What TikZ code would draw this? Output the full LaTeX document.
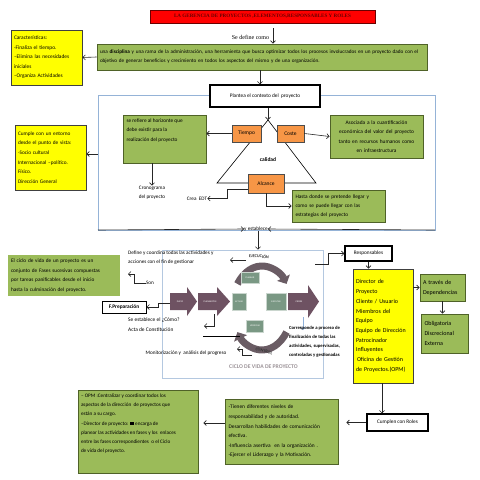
\documentclass[tikz,border=0pt]{standalone}
\usepackage{fontspec}
\setmainfont{Carlito}
\newfontfamily\tnr{Liberation Serif}
\usetikzlibrary{arrows.meta,calc}
\definecolor{gfill}{HTML}{9BBB59}
\definecolor{gdraw}{HTML}{4F6228}
\definecolor{yfill}{HTML}{FFFF00}
\definecolor{ofill}{HTML}{F79646}
\definecolor{tfill}{HTML}{FF0000}
\definecolor{tred}{HTML}{6A0000}
\definecolor{bframe}{HTML}{95B3D7}
\definecolor{cframe}{HTML}{B4C8E0}
\definecolor{mauve}{HTML}{6E5262}
\definecolor{arcc}{HTML}{6A5C64}
\definecolor{cgreen}{HTML}{7A9884}
\definecolor{ctitle}{HTML}{9C9398}
\definecolor{barrow}{HTML}{8EB0DA}
\newcommand{\fs}[2]{\fontsize{#1}{#2}\selectfont}
\newcommand{\tbx}[3]{\parbox[c][#2][t]{#1}{\raggedright #3}}
\tikzset{
  gbox/.style={draw=gdraw, fill=gfill, line width=0.9pt, inner sep=0pt},
  ybox/.style={draw=black!75, fill=yfill, line width=0.9pt, inner sep=0pt},
  obox/.style={draw=black!70, fill=ofill, line width=0.9pt, inner sep=0pt, font=\fs{5.5}{6}},
  wbox/.style={draw=black, fill=white, line width=1.3pt, inner sep=0pt, font=\fs{5.3}{6}},
  arr/.style={-{Straight Barb[length=2.5pt,width=5pt]}, line width=0.6pt, black!85},
  txt/.style={inner sep=0pt, font=\fs{5.2}{9.2}},
  cbox/.style={fill=cgreen, draw=white!60!cgreen, line width=0.4pt, inner sep=0pt, font=\fs{2.3}{3}, text=white},
  atext/.style={inner sep=0pt, font=\fs{2.4}{3}, text=white},
  bigarc/.style={arcc, line width=7pt, -{Triangle[length=7pt,width=14pt]}},
}
\begin{document}
\begin{tikzpicture}[x=1pt,y=-1pt]
\useasboundingbox (0,0) rectangle (480,480);
\fill[white] (0,0) rectangle (480,480);

% title
\node[draw=tred, fill=tfill, line width=0.8pt, minimum width=225pt, minimum height=13pt, inner sep=0pt,
      font=\tnr\bfseries\fs{5.1}{6}, text=tred] (title) at (262.5,16.5)
      {LA GERENCIA DE PROYECTOS ,ELEMENTOS,RESPONSABLES Y ROLES};
\node[inner sep=0pt, font=\tnr\fs{6}{7}] (sdef) at (250.5,37) {Se define como};

% green 1
\node[gbox, minimum width=330pt, minimum height=26pt, text width=324pt, align=left, font=\fs{5.2}{9.2}] (g1) at (262,57)
  {una \textbf{disciplina} y una rama de la administración, una herramienta que busca optimizar todos los procesos involucrados en un proyecto dado con el\\
   objetivo de generar beneficios y crecimiento en todos los aspectos del mismo y de una organización.};

% yellow 1
\node[ybox, minimum width=71pt, minimum height=55pt, text width=65pt, align=left, font=\fs{5.4}{9.5}] (y1) at (46.5,57.5)
  {Características:\\-Finaliza el tiempo.\\–Elimina las necesidades\\iniciales\\–Organiza Actividades};

% blue frame
\draw[bframe, line width=0.9pt] (98,95) rectangle (435,230);
\coordinate (bfl) at (98,230);
\coordinate (bfr) at (435,230);
\coordinate (bfm) at (98,154);

% plantea
\node[wbox, minimum width=110pt, minimum height=22pt] (plan) at (265,96) {Plantea el contexto del \ proyecto};

% yellow 2
\node[ybox, minimum width=71pt, minimum height=65pt, text width=65pt, align=left, font=\fs{5.3}{9.6}] (y2) at (50.5,157.5)
  {Cumple con un entorno\\desde el punto de vista:\\-Socio cultural\\Internacional –político.\\Físico.\\Dirección General};

% green 2
\node[gbox, minimum width=83pt, minimum height=48pt, font=\fs{5.3}{9.3}] (g2) at (164.5,139)
  {\tbx{76pt}{42pt}{\vspace{1pt}se refiere al horizonte que\\debe existir para la\\realización del proyecto}};

% triangle
\coordinate (tapex) at (268,120);
\coordinate (tbl) at (217,183);
\coordinate (tbr) at (316,183);
\draw[line width=0.6pt] (tapex) -- (tbl) -- (tbr) -- cycle;

\node[obox, minimum width=29pt, minimum height=17pt] (tiempo) at (246.5,133.5) {Tiempo};
\node[obox, minimum width=27pt, minimum height=17pt] (coste) at (290.5,133.5) {Coste};
\node[obox, minimum width=36pt, minimum height=19pt] (alcance) at (266,183.5) {Alcance};
\node[inner sep=0pt, font=\bfseries\fs{5.5}{6}] (calidad) at (268,160) {calidad};

% green 3
\node[gbox, minimum width=93pt, minimum height=43pt, text width=90pt, align=center, font=\fs{5.4}{9.3}] (g3) at (376.5,136.5)
  {Asociada a la cuantificación\\económica del valor del proyecto\\tanto en recursos humanos como\\en infraestructura};

% green 4
\node[gbox, minimum width=93pt, minimum height=32pt, text width=86pt, align=left, font=\fs{5.3}{9.2}] (g4) at (338.5,206)
  {Hasta donde se pretende llegar y\\como se puede llegar con las\\estrategias del proyecto};

\node[txt, align=center] (crono) at (152,192.5) {Cronograma\\del proyecto};
\node[txt] (edt) at (197,198.5) {Crea \ EDT};
\node[txt] (yest) at (256,229) {y establece};

% connectors top part
\draw[arr, shorten <=5pt] (title.south -| 273,0) -- (g1.north -| 273,0);
\draw[arr] (g1.west) -- (y1.east);
\draw[arr] (g1.south -| 260,0) -- (plan.north -| 260,0);
\draw[arr] (plan.south -| tapex) -- (tapex);
\draw[arr] (bfm) -- (y2.east |- bfm);
\draw[arr] (tiempo.west) -- (g2.east |- tiempo.west);
\draw[arr] (coste.east) -- (g3.west);
\draw[arr] (g2.south -| crono.north) -- (crono.north);
\draw[arr] ([yshift=-5.5pt]alcance.west) -- ++(-20,0) |- (edt.east);
\draw[arr] (alcance.south) |- (g4.west);
\draw[arr] (bfl) -- (yest.west);
\draw[arr] (bfr) -- (yest.east);

% cycle frame
\node[draw=cframe, line width=0.8pt, minimum width=161pt, minimum height=128pt, inner sep=0pt] (cyc) at (242.5,314) {};
\draw[arr] (yest.south -| 258,0) -- (cyc.north -| 258,0);

% cycle arrows
\fill[mauve] (170,293) -- (187,293) -- (187,287) -- (197,301.5) -- (187,316) -- (187,310) -- (170,310) -- cycle;
\node[atext] (tini) at (180,301.5) {INICIO};
\fill[mauve] (198,293) -- (217,293) -- (217,287) -- (230,301.5) -- (217,316) -- (217,310) -- (198,310) -- cycle;
\node[atext] (tpla) at (210,301.5) {PLANEACIÓN};
\fill[mauve] (288,293) -- (308,293) -- (308,285) -- (319,301.5) -- (308,318) -- (308,310) -- (288,310) -- cycle;
\node[atext] (tcie) at (299,301.5) {CIERRE};

\draw[bigarc] (262,308) ++(215:30 and 42) arc[start angle=215, end angle=325, x radius=30, y radius=42];
\draw[bigarc] (262,308) ++(35:30 and 42) arc[start angle=35, end angle=145, x radius=30, y radius=42];

\node[cbox, minimum width=14pt, minimum height=17pt] (actuar) at (239,301.5) {ACTUAR};
\node[cbox, minimum width=18pt, minimum height=11pt] (planear) at (250,277.5) {PLANEAR};
\node[cbox, minimum width=20pt, minimum height=17pt] (ejec) at (276,301.5) {EJECUTAR};
\node[cbox, minimum width=17pt, minimum height=12pt] (verif) at (255,326) {VERIFICAR};

\node[inner sep=0pt, font=\bfseries\fs{4.3}{5}, text=black!80, rotate=-4] (tejec) at (259,256) {EJECUCIÓN};
\node[inner sep=0pt, font=\bfseries\fs{4.3}{5}, text=black!80, rotate=-14] (tcont) at (264,351) {CONTROL};
\node[inner sep=0pt, font=\bfseries\fs{5.7}{7}, text=ctitle] (tciclo) at (263.5,367) {CICLO DE VIDA DE PROYECTO};

% cycle surroundings
\node[txt, anchor=west, align=left] (define) at (128,258) {Define y coordina todas las actividades y\\acciones con el fin de gestionar};
\coordinate (defa) at (246,260);
\draw[arr] (defa) -- (230,260);

\node[txt] (son) at (150,283) {Son};
\coordinate (sona) at (128,274);
\draw[arr] (son.west) -- (134,283) -- (134,274) -- (sona);

\node[fill=gfill, minimum width=112pt, minimum height=41pt, text width=106pt, align=left, inner sep=0pt, font=\fs{5.3}{9.8}] (gcic) at (64,275.5)
  {El ciclo de vida de un proyecto es un\\conjunto de Fases sucesivas compuestas\\por tareas panificables desde el inicio\\hasta la culminación del proyecto.};

\node[draw=black, fill=white, line width=1pt, minimum width=44pt, minimum height=12pt, inner sep=0pt, font=\bfseries\fs{5.4}{6}] (fprep) at (124,307) {F.Preparación};
\coordinate (iniw) at (170,303);
\draw[arr] (iniw) -- (158,303) -- (158,307) -- (fprep.east);

\node[txt, anchor=north west, align=left, font=\fs{5.4}{9.8}] (estab) at (128,318) {Se establece el ¿Cómo?\\Acta de Constitución};
\coordinate (plab) at (214,314);
\coordinate (plaa) at (204,326);
\draw[arr] (plab) -- (214,326) -- (plaa);
\coordinate (lna) at (203,336);
\coordinate (lnb) at (240,336);
\draw[line width=0.6pt] (lna) -- (lnb);

\node[txt] (monit) at (186,353) {Monitorización y \ análisis del progreso};
\coordinate (mona) at (237,349);
\draw[arr] (252,355) -- (242,355) -- (242,349) -- (mona);

\coordinate (cieb) at (303,317);
\draw[-{Straight Barb[length=2.5pt,width=5pt]}, line width=0.6pt, barrow] (cieb) -- (303,330);
\node[inner sep=0pt, anchor=north west, align=left, font=\bfseries\fs{4.7}{9}] (corr) at (289,326)
  {Corresponde a proceso de\\finalización de todas las\\actividades, supervisadas,\\controladas y gestionadas};

% right column
\node[wbox, minimum width=47pt, minimum height=15pt] (resp) at (368.5,253.5) {Responsables};
\coordinate (cycr) at (315,264);
\draw[arr] (cycr) -- (328,264) -- (328,253.5) -- (resp.west);

\node[ybox, minimum width=60pt, minimum height=114pt, text width=54pt, align=left, font=\fs{6}{9.7}] (y3) at (383,326)
  {Director de\\Proyecto\\Cliente / Usuario\\Miembros del\\Equipo\\Equipo de Dirección\\Patrocinador\\Influyentes\\\hspace*{1pt}Oficina de Gestión\\de Proyectos.(OPM)};
\draw[arr] (resp.south) -- (resp.south |- y3.north);

\node[gbox, minimum width=45pt, minimum height=27pt, text width=39pt, align=left, font=\fs{6}{9.8}] (g7) at (442.5,287.5) {A través de\\Dependencias};
\draw[arr] (g7.west -| y3.east) -- (g7.west);
\node[gbox, minimum width=47pt, minimum height=39pt, text width=40pt, align=left, font=\fs{6}{9.8}] (g8) at (444.5,333.5) {Obligatoria\\Discrecional\\Externa};
\draw[arr] (g7.south) -- (g7.south |- g8.north);

\node[wbox, minimum width=61pt, minimum height=17pt] (roles) at (397.5,422.5) {Cumplen con Roles};
\draw[arr] (y3.south -| 382,0) -- (roles.north -| 382,0);

\node[gbox, minimum width=113pt, minimum height=65pt, text width=106pt, align=left, font=\fs{5.4}{9.6}] (g6) at (281.5,431.5)
  {-Tienen diferentes niveles de\\responsabilidad y de autoridad.\\Desarrollan habilidades de comunicación\\efectiva.\\-Influencia asertiva \ en la organización .\\-Ejercer el Liderazgo y la Motivación.};
\draw[arr, shorten >=8pt] (roles.west) -- (roles.west -| g6.east);

\node[gbox, minimum width=120pt, minimum height=83pt, font=\fs{5.2}{9.3}] (g5) at (138,431.5)
  {\tbx{114pt}{78pt}{\vspace{1pt}– OPM :Centralizar y coordinar todos los\\aspectos de la dirección \ de proyectos que\\están a su cargo.\\–Director de proyecto: \rule{4pt}{3pt} encarga de\\planear las actividades en fases y los \ enlaces\\entre las fases correspondientes \ o el Ciclo\\de vida del proyecto.}};
\draw[arr, shorten >=5pt] ([yshift=8.5pt]g6.west) -- ([yshift=8.5pt]g6.west -| g5.east);
\end{tikzpicture}
\end{document}
